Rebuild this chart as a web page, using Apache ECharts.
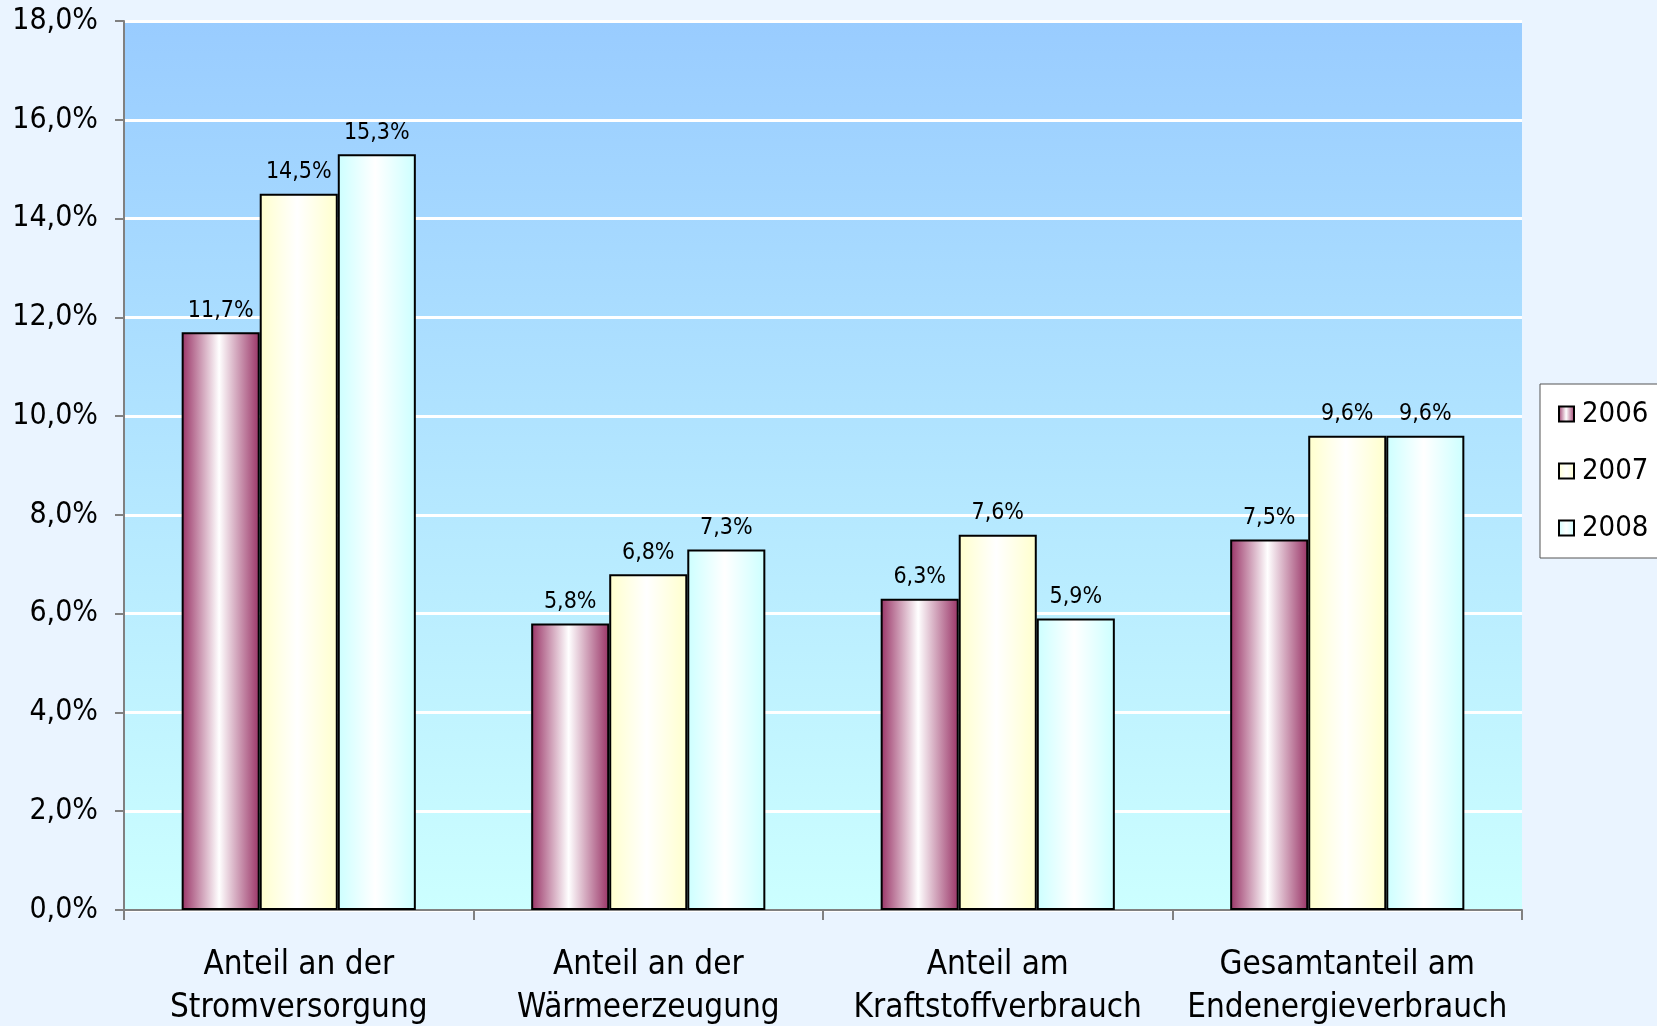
<!DOCTYPE html>
<html>
<head>
<meta charset="utf-8">
<script src="https://cdn.jsdelivr.net/npm/echarts@6/dist/echarts.min.js"></script>
<style>
  html, body { margin: 0; padding: 0; background: #eaf4ff; }
  #chart { width: 1657px; height: 1026px; }
</style>
</head>
<body>
<div id="chart"></div>
<script>
// values, in percent
const categories = [
  'Anteil an der\nStromversorgung',
  'Anteil an der\nWärmeerzeugung',
  'Anteil am\nKraftstoffverbrauch',
  'Gesamtanteil am\nEndenergieverbrauch'
];
const years = ['2006', '2007', '2008'];
const values2006 = [11.7, 5.8, 6.3, 7.5];
const values2007 = [14.5, 6.8, 7.6, 9.6];
const values2008 = [15.3, 7.3, 5.9, 9.6];
const edgeColors = ['#993366', '#ffffcc', '#ccffff'];

const font = '"DejaVu Sans Condensed", "DejaVu Sans", sans-serif';
const fmt = v => v.toFixed(1).replace('.', ',') + '%';

function barGradient(edge) {
  return new echarts.graphic.LinearGradient(0, 0, 1, 0, [
    { offset: 0, color: edge },
    { offset: 0.48, color: '#ffffff' },
    { offset: 1, color: edge }
  ]);
}

function makeSeries(name, data, i) {
  return {
    name: name,
    type: 'bar',
    data: data,
    barGap: '0%',
    barCategoryGap: '33%',
    itemStyle: {
      color: barGradient(edgeColors[i]),
      borderColor: '#000',
      borderWidth: 2
    },
    label: {
      show: true,
      position: 'top',
      distance: 10,
      formatter: p => fmt(p.value),
      color: '#000',
      fontFamily: font,
      fontSize: 23
    }
  };
}

const myChart = echarts.init(document.getElementById('chart'));
myChart.setOption({
  backgroundColor: '#eaf4ff',
  animation: false,
  grid: {
    left: 124, right: 135, top: 21, bottom: 116,
    outerBoundsMode: 'none',
    containLabel: false,
    show: true,
    borderWidth: 0,
    backgroundColor: new echarts.graphic.LinearGradient(0, 0, 0, 1, [
      { offset: 0, color: '#99ccff' },
      { offset: 1, color: '#ccffff' }
    ])
  },
  legend: {
    orient: 'vertical',
    left: 1540,
    top: 384,
    padding: [15, 14, 15, 18],
    itemGap: 27,
    itemWidth: 15,
    itemHeight: 15,
    icon: 'rect',
    backgroundColor: '#ffffff',
    borderColor: '#555',
    borderWidth: 1,
    textStyle: { fontFamily: font, fontSize: 29, color: '#000', lineHeight: 30, padding: [0, 0, 0, 3] },
    data: years
  },
  xAxis: {
    type: 'category',
    data: categories,
    axisLine: { lineStyle: { color: '#808080', width: 2 } },
    axisTick: { show: true, length: 10, lineStyle: { color: '#808080', width: 2 } },
    axisLabel: {
      color: '#000', fontFamily: font, fontSize: 33, lineHeight: 43, margin: 34,
      interval: 0
    }
  },
  yAxis: {
    type: 'value',
    min: 0, max: 18, interval: 2,
    axisLine: { show: true, lineStyle: { color: '#808080', width: 2 } },
    axisTick: { show: true, length: 9, lineStyle: { color: '#808080', width: 2 } },
    splitLine: { lineStyle: { color: '#ffffff', width: 3 } },
    axisLabel: {
      color: '#000', fontFamily: font, fontSize: 30, margin: 26,
      formatter: v => fmt(v)
    }
  },
  series: [
    makeSeries(years[0], values2006, 0),
    makeSeries(years[1], values2007, 1),
    makeSeries(years[2], values2008, 2)
  ]
});
</script>
</body>
</html>
